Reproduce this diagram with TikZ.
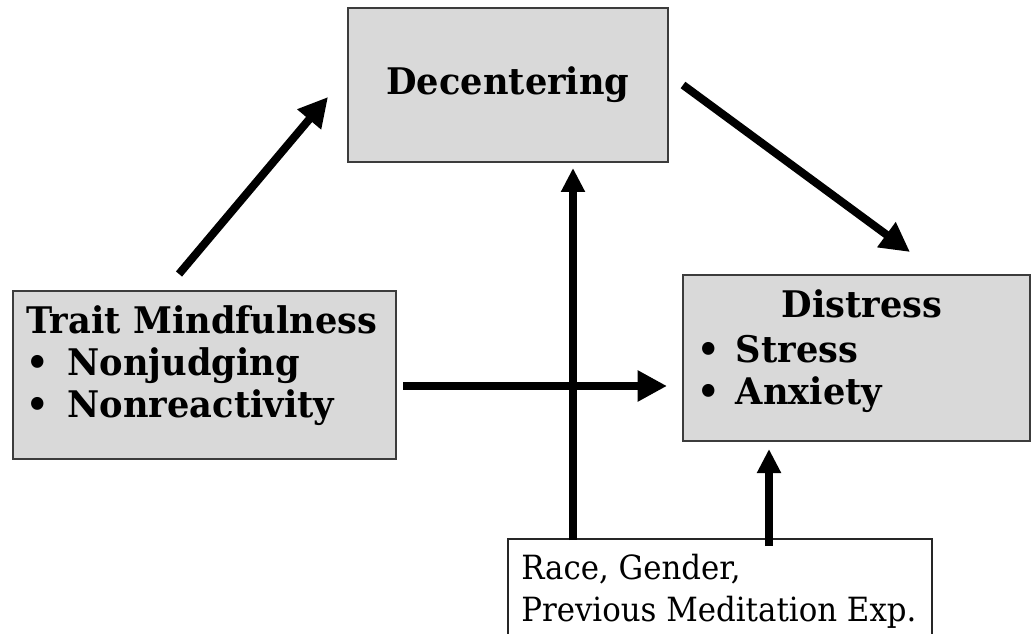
\documentclass[tikz,border=0pt]{standalone}
\usepackage{fontspec}
\setmainfont{DejaVu Serif}
\newfontfamily\boldserif[FakeStretch=0.96]{DejaVu Serif}
\newfontfamily\textserif[FakeStretch=0.925]{DejaVu Serif}
\usetikzlibrary{arrows.meta}

\definecolor{boxfill}{HTML}{D9D9D9}
\definecolor{boxline}{HTML}{3C3C3C}

\begin{document}
\begin{tikzpicture}[x=0.75pt, y=-0.75pt,
      construct/.style ={rectangle, draw=boxline, line width=1.1pt, fill=boxfill, inner sep=0pt},
      covariate/.style ={rectangle, draw=black!85, line width=1.1pt, fill=white, inner sep=0pt},
      heading/.style ={font=\boldserif\fontsize{27.5pt}{31.5pt}\selectfont\bfseries, inner sep=0pt},
      plain/.style ={font=\textserif\fontsize{25pt}{31.5pt}\selectfont, inner sep=0pt, align=left},
      effect/.style ={line width=6pt, -{Triangle[length=22pt, width=22pt]}},
      control/.style ={line width=6pt, -{Triangle[length=18pt, width=17pt]}}]

   \useasboundingbox (0,0) rectangle (1031,634);

   \node[construct, minimum width=240pt, minimum height=115.5pt, heading] (DC) at (508,85) {Decentering};
   \node[construct, minimum width=287.25pt, minimum height=126pt] (TM) at (204.5,375) {};
   \node[construct, minimum width=260.25pt, minimum height=124.5pt] (DS) at (856.5,358) {};
   \node[covariate, minimum width=318pt, minimum height=90pt] (CV) at (720,599) {};

   \node[heading, align=left, anchor=north west] (TMtext) at (26,305)
        {Trait Mindfulness\\ \makebox[31pt][l]{\textbullet}Nonjudging\\ \makebox[31pt][l]{\textbullet}Nonreactivity};
   \node[heading, anchor=base] (DStitle) at (862,318) {Distress};
   \node[heading, align=left, anchor=north west] (DStext) at (697,335)
        {\makebox[29pt][l]{\textbullet}Stress\\ \makebox[29pt][l]{\textbullet}Anxiety};
   \node[plain, anchor=north west] (CVtext) at (521,554) {Race, Gender,\\ Previous Meditation Exp.};

   \coordinate (P) at (179,274);
   \coordinate (Q) at (328,97);
   \coordinate (R) at (683,85);
   \coordinate (S) at (910,252);
   \coordinate (T) at (403,386);
   \coordinate (U) at (667,386);
   \coordinate (V) at (573,540);
   \coordinate (W) at (573,168);
   \coordinate (X) at (769,546);
   \coordinate (Y) at (769,449);

   \draw[effect] (P) to (Q);
   \draw[effect] (R) to (S);
   \draw[effect] (T) to (U);

   \draw[control] (V) to (W);
   \draw[control] (X) to (Y);
 \end{tikzpicture}
\end{document}
